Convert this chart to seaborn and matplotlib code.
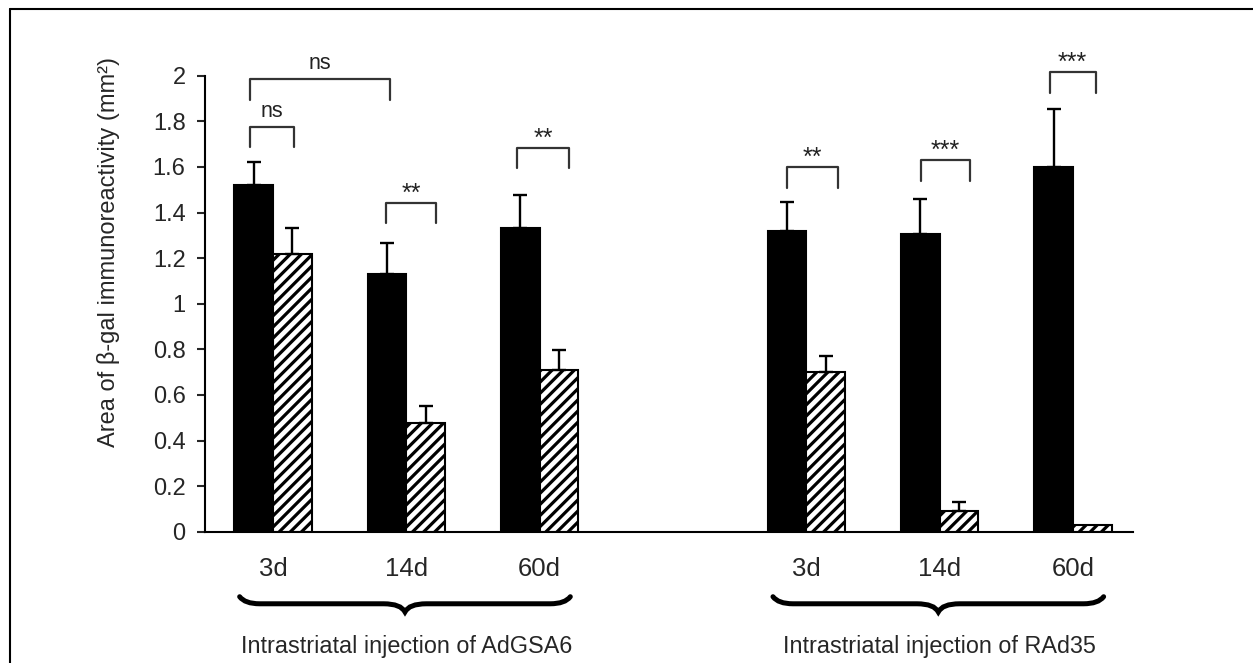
import numpy as np
import pandas as pd
import seaborn as sns
import matplotlib.pyplot as plt
from matplotlib.path import Path
from matplotlib.patches import PathPatch
from matplotlib.lines import Line2D

sns.set_style("white")
plt.rcParams['font.family'] = ['Liberation Sans', 'DejaVu Sans']
plt.rcParams['hatch.linewidth'] = 2.3

# data
vectors = ["AdGSA6", "RAd35"]
days = ["3d", "14d", "60d"]
solid_mean = [1.52, 1.13, 1.33, 1.32, 1.305, 1.60]
solid_err = [0.10, 0.135, 0.146, 0.127, 0.154, 0.255]
hatched_mean = [1.22, 0.475, 0.71, 0.70, 0.092, 0.028]
hatched_err = [0.11, 0.078, 0.085, 0.072, 0.037, 0.0]
series = ["Series 1", "Series 2"]
group_labels = ["Intrastriatal injection of AdGSA6", "Intrastriatal injection of RAd35"]

# significance brackets: (category, left offset, right category, right offset, height, label)
brackets = [
    ("AdGSA6 3d", -0.17, "AdGSA6 3d", 0.16, 1.776, "ns"),
    ("AdGSA6 3d", -0.17, "AdGSA6 14d", -0.12, 1.985, "ns"),
    ("AdGSA6 14d", -0.15, "AdGSA6 14d", 0.22, 1.443, "**"),
    ("AdGSA6 60d", -0.17, "AdGSA6 60d", 0.22, 1.684, "**"),
    ("RAd35 3d", -0.145, "RAd35 3d", 0.235, 1.598, "**"),
    ("RAd35 14d", -0.14, "RAd35 14d", 0.225, 1.630, "***"),
    ("RAd35 60d", -0.175, "RAd35 60d", 0.17, 2.015, "***"),
]

conds = [f"{v} {d}" for v in vectors for d in days]
order = conds[:3] + ["gap"] + conds[3:]

df = pd.DataFrame({
    "condition": conds * 2,
    "series": [series[0]] * 6 + [series[1]] * 6,
    "area": solid_mean + hatched_mean,
    "err": solid_err + hatched_err,
})

fig = plt.figure(figsize=(12.53, 6.63), dpi=100)
ax = fig.add_axes([0.1636, 0.198, 0.7406, 0.7738])

sns.barplot(data=df, x="condition", y="area", hue="series", order=order,
            hue_order=series, palette=["black", "white"], saturation=1,
            edgecolor="black", linewidth=1.5, width=0.58, gap=0,
            errorbar=None, legend=False, ax=ax)

for k, s in enumerate(series):
    for bar in ax.containers[k]:
        cx = bar.get_x() + bar.get_width() / 2
        h = bar.get_height()
        cond = order[int(round(cx))]
        if s == series[1]:
            bar.set_hatch("///")
        err = df[(df.condition == cond) & (df.series == s)]["err"].iloc[0]
        if err > 0:
            ax.errorbar(cx, h, yerr=[[0], [err]], fmt="none", ecolor="black",
                        elinewidth=1.7, capsize=5, capthick=1.7, zorder=3)

# brackets
for c0, o0, c1, o1, y, lab in brackets:
    x0 = order.index(c0) + o0
    x1 = order.index(c1) + o1
    leg = 0.09
    ax.plot([x0, x0, x1, x1], [y - leg, y, y, y - leg], color="#333333",
            lw=1.6, clip_on=False)
    if lab == "ns":
        ax.text((x0 + x1) / 2, y + 0.045, lab, ha="center", va="baseline",
                fontsize=15.5, color="#222222", clip_on=False)
    else:
        ax.text((x0 + x1) / 2, y + 0.01, lab, ha="center", va="baseline",
                fontsize=18, color="#222222", clip_on=False)

ax.set_xlim(-0.51, 6.45)
ax.set_ylim(0, 2.25)
yt = np.arange(0, 2.01, 0.2)
ax.set_yticks(yt)
ax.set_yticklabels([f"{round(t, 1):g}" for t in yt])
ax.set_xticks(range(len(order)))
ax.set_xticklabels(days + [""] + days)
ax.set_xlabel("")
ax.set_ylabel("Area of β-gal immunoreactivity (mm²)", fontsize=17)
ax.yaxis.set_label_coords(-0.0916, 0.545)

for sp in ["top", "right"]:
    ax.spines[sp].set_visible(False)
ax.spines["left"].set_bounds(0, 2)
ax.spines["left"].set_linewidth(1.5)
ax.spines["bottom"].set_linewidth(1.5)
ax.spines["left"].set_color("black")
ax.spines["bottom"].set_color("black")
ax.tick_params(axis="x", length=0, pad=18, labelsize=18.5)
ax.tick_params(axis="y", left=True, direction="out", length=6, width=1.5,
               pad=8, labelsize=17)

# curly braces under each group
def brace(xa, xb, y_end=-0.285, y_body=-0.316, y_tip=-0.352):
    xm = (xa + xb) / 2
    verts = [(xa, y_end), (xa + 0.04, y_body), (xa + 0.15, y_body),
             (xm - 0.16, y_body), (xm - 0.03, y_body), (xm, y_tip),
             (xm + 0.03, y_body), (xm + 0.16, y_body),
             (xb - 0.15, y_body), (xb - 0.04, y_body), (xb, y_end)]
    codes = [Path.MOVETO, Path.CURVE3, Path.CURVE3, Path.LINETO,
             Path.CURVE3, Path.CURVE3, Path.CURVE3, Path.CURVE3,
             Path.LINETO, Path.CURVE3, Path.CURVE3]
    ax.add_patch(PathPatch(Path(verts, codes), fill=False, lw=3.6,
                           color="black", capstyle="round", clip_on=False))

for g, lab in enumerate(group_labels):
    first = order.index(conds[3 * g])
    last = order.index(conds[3 * g + 2])
    brace(first - 0.25, last + 0.23)
    ax.text((first + last) / 2, -0.505, lab, ha="center", va="center",
            fontsize=16.8, clip_on=False)

# frame of the cropped panel
fx = 9.5 / 1253
fy = 1 - 8.5 / 663
fig.add_artist(Line2D([fx, fx], [0, fy], transform=fig.transFigure, color="black", lw=1.5))
fig.add_artist(Line2D([fx, 1], [fy, fy], transform=fig.transFigure, color="black", lw=1.5))

fig.savefig("out.png", dpi=100)
